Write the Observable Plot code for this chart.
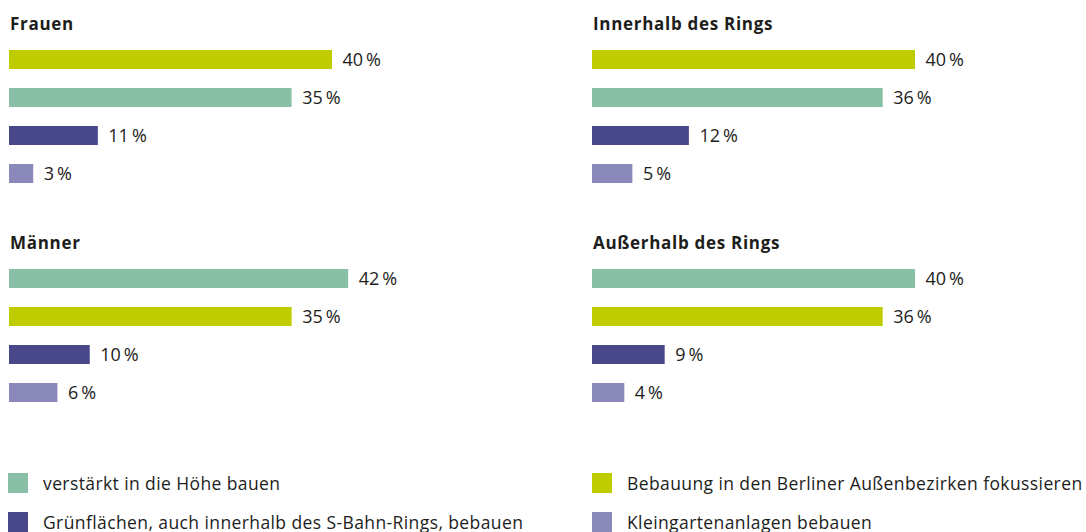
<!DOCTYPE html>
<html>
<head>
<meta charset="utf-8">
<script src="https://cdn.jsdelivr.net/npm/d3@7"></script>
<script src="https://cdn.jsdelivr.net/npm/@observablehq/plot@0.6"></script>
<style>
  html, body { margin: 0; padding: 0; background: #fff; }
  body { font-family: "Open Sans", sans-serif; color: #1d1d1b; }
  #root { position: relative; width: 1086px; height: 532px; overflow: hidden; }
  .ptitle { position: absolute; font-weight: 700; font-size: 17px; letter-spacing: 0.7px; line-height: 20px; white-space: nowrap; }
  .plot { position: absolute; }
  .leg { position: absolute; display: flex; align-items: center; font-size: 17.5px; letter-spacing: 0.4px; line-height: 20px; white-space: nowrap; }
  .sw { width: 20px; height: 20px; margin-right: 15px; flex: none; }
</style>
</head>
<body>
<div id="root"></div>
<script>
// ---- data ----
const panels = ["Frauen", "Innerhalb des Rings", "Männer", "Außerhalb des Rings"];
const categories = [
  "verstärkt in die Höhe bauen",
  "Bebauung in den Berliner Außenbezirken fokussieren",
  "Grünflächen, auch innerhalb des S-Bahn-Rings, bebauen",
  "Kleingartenanlagen bebauen"
];
const colors = ["#89BFA6", "#BFCC00", "#47478A", "#8B89BA"];
// values per category, in panel order
const hoehe   = [35, 36, 42, 40];
const aussen  = [40, 40, 35, 36];
const gruen   = [11, 12, 10, 9];
const klein   = [3, 5, 6, 4];
const series = [hoehe, aussen, gruen, klein];
// legend order (left column, right column)
const legendOrder = [0, 1, 2, 3];

// ---- layout ----
const root = document.getElementById("root");
const panelPos = [
  {left: 0,   top: 0},
  {left: 583, top: 0},
  {left: 0,   top: 219},
  {left: 583, top: 219}
];

panels.forEach((name, p) => {
  const pos = panelPos[p];
  const t = document.createElement("div");
  t.className = "ptitle";
  t.textContent = name;
  t.style.left = (pos.left + 10) + "px";
  t.style.top = (pos.top + 14) + "px";
  root.appendChild(t);

  const rows = categories.map((c, i) => ({cat: c, color: colors[i], value: series[i][p]}))
    .sort((a, b) => b.value - a.value)
    .map((d, r) => ({...d, rank: r}));

  const chart = Plot.plot({
    width: 503,
    height: 152,
    margin: 0,
    x: {domain: [0, 60], range: [9, 9 + 60 * 8.075], axis: null},
    y: {domain: [0, 1, 2, 3], paddingInner: 0.5, paddingOuter: 0.25, axis: null},
    style: {fontFamily: "Open Sans, sans-serif", background: "transparent", overflow: "visible"},
    marks: [
      Plot.barX(rows, {x: "value", y: "rank", fill: d => d.color}),
      Plot.text(rows, {x: "value", y: "rank", text: d => d.value + "\u2009%", dx: 10,
        textAnchor: "start", fontSize: 18, fill: "#1d1d1b"})
    ]
  });
  const wrap = document.createElement("div");
  wrap.className = "plot";
  wrap.style.left = pos.left + "px";
  wrap.style.top = (pos.top + 40) + "px";
  wrap.appendChild(chart);
  root.appendChild(wrap);
});

// ---- legend ----
const legPos = [
  {left: 8,   top: 473},
  {left: 592, top: 473},
  {left: 8,   top: 512},
  {left: 592, top: 512}
];
legendOrder.forEach((ci, k) => {
  const l = document.createElement("div");
  l.className = "leg";
  l.style.left = legPos[k].left + "px";
  l.style.top = legPos[k].top + "px";
  const sw = document.createElement("div");
  sw.className = "sw";
  sw.style.background = colors[ci];
  const tx = document.createElement("span");
  tx.textContent = categories[ci];
  l.appendChild(sw);
  l.appendChild(tx);
  root.appendChild(l);
});
</script>
</body>
</html>
